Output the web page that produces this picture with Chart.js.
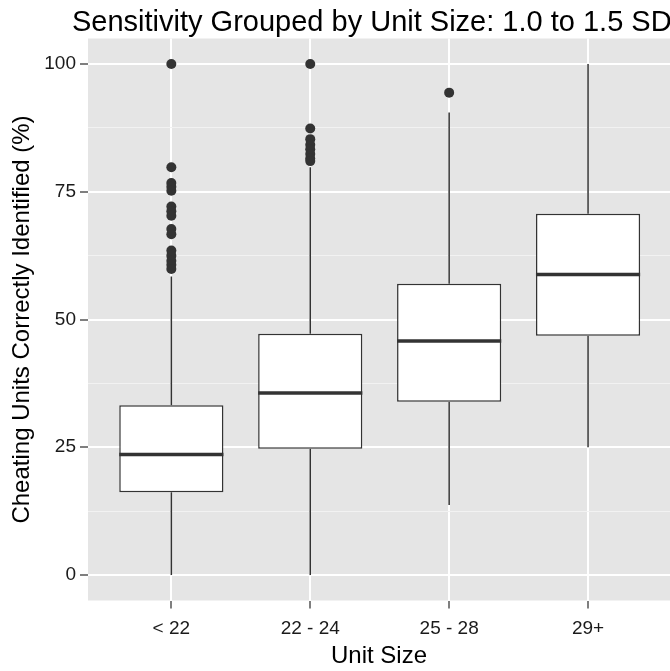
<!DOCTYPE html>
<html>
<head>
<meta charset="utf-8">
<script src="https://cdn.jsdelivr.net/npm/chart.js@4/dist/chart.umd.min.js"></script>
<style>
  html, body { margin: 0; padding: 0; background: #ffffff; }
  #wrap { width: 670px; height: 671px; position: relative; }
</style>
</head>
<body>
<div id="wrap"><canvas id="c" width="670" height="671"></canvas></div>
<script>
// ---- data ----
const titleText = 'Sensitivity Grouped by Unit Size: 1.0 to 1.5 SD';
const xAxisTitle = 'Unit Size';
const yAxisTitle = 'Cheating Units Correctly Identified (%)';
const categories = ['< 22', '22 - 24', '25 - 28', '29+'];
const whiskerLow  = [0.0, 0.0, 13.7, 25.0];
const q1          = [16.2, 24.7, 33.9, 46.8];
const median      = [23.6, 35.6, 45.8, 58.8];
const q3          = [33.2, 47.2, 57.0, 70.7];
const whiskerHigh = [58.4, 79.8, 90.5, 100.0];
const outliers1 = [100, 79.8, 76.7, 76.0, 75.2, 72.1, 71.2, 70.3, 67.7, 66.7, 63.5, 62.5, 61.5, 60.7, 59.9];
const outliers2 = [100, 87.4, 85.3, 84.2, 83.3, 82.4, 81.5, 81.0];
const outliers3 = [94.4];
const outliers4 = [];
const yTicks = [0, 12.5, 25, 37.5, 50, 62.5, 75, 87.5, 100];
const yMajor = [0, 25, 50, 75, 100];

// ---- build datasets ----
const positions = categories.map((_, i) => i + 1);
const dark = '#333333';
const FONT = '"Liberation Sans", Arial, sans-serif';

const whiskerPts = [];
positions.forEach((x, i) => {
  whiskerPts.push({x: x, y: whiskerLow[i]}, {x: x, y: q1[i]}, {x: x, y: null});
  whiskerPts.push({x: x, y: q3[i]}, {x: x, y: whiskerHigh[i]}, {x: x, y: null});
});
const boxData = positions.map((x, i) => ({x: x, y: [q1[i], q3[i]]}));
const medianData = positions.map((x, i) => ({x: x, y: median[i]}));
const outlierData = [];
[outliers1, outliers2, outliers3, outliers4].forEach((arr, i) => {
  arr.forEach(v => outlierData.push({x: positions[i], y: v}));
});

const panelBg = {
  id: 'panelBg',
  beforeDraw(chart) {
    const {ctx, chartArea: a} = chart;
    ctx.save();
    ctx.fillStyle = '#E5E5E5';
    ctx.fillRect(a.left, a.top, a.right - a.left, a.bottom - a.top);
    ctx.restore();
  },
  afterDraw(chart) {
    const {ctx} = chart;
    ctx.save();
    ctx.fillStyle = '#000000';
    ctx.font = '29px ' + FONT;
    ctx.textBaseline = 'alphabetic';
    ctx.textAlign = 'left';
    ctx.fillText(titleText, 72, 31);
    ctx.restore();
  }
};

function halfBox(ctx) {
  const xs = ctx.chart.scales.x;
  if (!xs) return 50;
  return Math.abs(xs.getPixelForValue(1.375) - xs.getPixelForValue(1));
}

new Chart(document.getElementById('c'), {
  data: {
    datasets: [
      {
        type: 'scatter', label: 'outliers', data: outlierData, order: 0,
        pointRadius: 5, pointBackgroundColor: dark, pointBorderColor: dark, pointBorderWidth: 0,
        showLine: false
      },
      {
        type: 'scatter', label: 'median', data: medianData, order: 1,
        pointStyle: 'line', pointRadius: halfBox, pointBorderColor: dark, pointBorderWidth: 3.5,
        showLine: false
      },
      {
        type: 'bar', label: 'box', data: boxData, order: 2, grouped: false,
        backgroundColor: '#FFFFFF', borderColor: dark, borderWidth: 1.5, borderSkipped: false,
        barPercentage: 0.75, categoryPercentage: 1.0
      },
      {
        type: 'line', label: 'whisker', data: whiskerPts, order: 3,
        borderColor: dark, borderWidth: 1.5, pointRadius: 0, spanGaps: false, tension: 0
      }
    ]
  },
  options: {
    responsive: false,
    animation: false,
    events: [],
    layout: { autoPadding: false, padding: { top: 38.5, left: 0, right: 0, bottom: 0 } },
    plugins: { legend: { display: false }, tooltip: { enabled: false }, title: { display: false } },
    scales: {
      x: {
        type: 'linear', min: 0.4, max: 4.59, offset: false,
        afterBuildTicks(s) { s.ticks = positions.map(v => ({value: v})); },
        afterFit(s) { s.height = 70.5; s.paddingLeft = 0; s.paddingRight = 0; },
        ticks: {
          callback: (v) => categories[Math.round(v) - 1] || '',
          color: '#1a1a1a', font: { size: 19, family: FONT },
          padding: 9, maxRotation: 0, autoSkip: false
        },
        grid: { offset: false, color: '#FFFFFF', lineWidth: 2, tickColor: '#7F7F7F', tickLength: 8, drawTicks: true },
        border: { display: false },
        title: { display: true, text: xAxisTitle, color: '#000000',
          font: { size: 24, family: FONT }, padding: { top: 0, bottom: 0 } }
      },
      y: {
        type: 'linear', min: -5, max: 105,
        afterBuildTicks(s) { s.ticks = yTicks.map(v => ({value: v})); },
        afterFit(s) { s.width = 88; s.paddingTop = 0; s.paddingBottom = 0; },
        ticks: {
          callback: (v) => yMajor.includes(v) ? String(v) : '',
          color: '#1a1a1a', font: { size: 19, family: FONT },
          padding: 4
        },
        grid: {
          color: (c) => yMajor.includes(c.tick && c.tick.value) ? '#FFFFFF' : '#F2F2F2',
          lineWidth: (c) => yMajor.includes(c.tick && c.tick.value) ? 2 : 1,
          tickColor: (c) => yMajor.includes(c.tick && c.tick.value) ? '#7F7F7F' : 'rgba(0,0,0,0)',
          tickLength: 8
        },
        border: { display: false },
        title: { display: true, text: yAxisTitle, color: '#000000',
          font: { size: 24, family: FONT }, padding: { top: 7.6, bottom: 0 } }
      }
    }
  },
  plugins: [panelBg]
});
</script>
</body>
</html>
